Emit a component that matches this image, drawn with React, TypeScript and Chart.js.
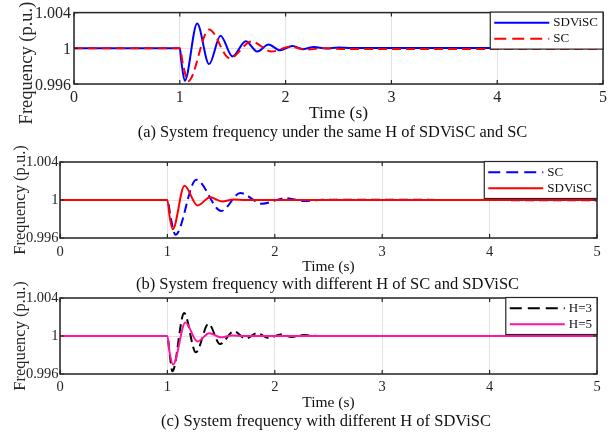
import { useEffect, useRef } from "react";
import { Chart, registerables } from "chart.js";

Chart.register(...registerables);

const SERIF = "'Liberation Serif', 'Times New Roman', Times, serif";

// Axis ticks shared by the three panels
const timeTicks = [0, 1, 2, 3, 4, 5];
const freqTicks = [0.996, 1, 1.004];
const freqTickLabels = ["0.996", "1", "1.004"];

const yAxisTitle = "Frequency (p.u.)";
const xAxisTitle = "Time (s)";

// (a) same inertia constant H for SDViSC and SC
const timeA_SDViSC = [0, 1, 1.015, 1.047, 1.164, 1.277, 1.385, 1.498, 1.624, 1.732, 1.839, 1.946, 2.066, 2.167, 2.268, 2.38, 2.5, 2.62, 5];
const freqA_SDViSC = [1, 1, 0.9985, 0.99636, 1.00277, 0.99823, 1.0014, 0.99909, 1.00079, 0.99963, 1.00043, 0.99978, 1.00025, 0.9999, 1.00015, 0.99998, 1.0001, 1.00003, 1.00004];
const timeA_SC = [0, 1, 1.03, 1.079, 1.277, 1.473, 1.678, 1.867, 2.04, 2.2, 2.36, 2.55, 5];
const freqA_SC = [1, 1, 0.9982, 0.99632, 1.00212, 0.99888, 1.00076, 0.99963, 1.00017, 0.99985, 1.00002, 0.99992, 0.99992];

// (b) different H for SC and SDViSC
const timeB_SC = [0, 1, 1.03, 1.075, 1.268, 1.502, 1.679, 1.882, 2.1, 2.27, 2.45, 5];
const freqB_SC = [1, 1, 0.9982, 0.99633, 1.00213, 0.99885, 1.00073, 0.99961, 1.0002, 0.9999, 1.00003, 0.99996];
const timeB_SDViSC = [0, 1, 1.02, 1.05, 1.159, 1.28, 1.399, 1.508, 1.617, 1.73, 5];
const freqB_SDViSC = [1, 1, 0.9983, 0.99692, 1.0015, 0.99943, 1.00028, 0.99985, 1.00005, 1.0, 1.0];

// (c) SDViSC with H = 3 and H = 5
const timeC_H3 = [0, 1, 1.02, 1.047, 1.156, 1.265, 1.383, 1.49, 1.62, 1.73, 1.835, 1.944, 2.055, 2.16, 2.27, 2.4, 5];
const freqC_H3 = [1, 1, 0.9982, 0.99629, 1.00241, 0.99828, 1.00129, 0.99915, 1.0005, 0.99972, 1.0003, 0.99979, 1.00017, 0.9999, 1.0001, 1.0, 1.0];
const timeC_H5 = [0, 1, 1.02, 1.053, 1.168, 1.278, 1.39, 1.495, 1.6, 1.72, 5];
const freqC_H5 = [1, 1, 0.9983, 0.997, 1.00143, 0.99942, 1.0003, 0.99986, 1.00005, 1.0, 1.0];

const captions = [
  "(a) System frequency under the same H of SDViSC and SC",
  "(b) System frequency with different H of SC and SDViSC",
  "(c) System frequency with different H of SDViSC",
];

type Series = { label: string; t: number[]; f: number[]; color: string; dash: number[]; order: number };

type Panel = {
  series: Series[];
  caption: string;
  canvasTop: number;
  canvasHeight: number;
  area: { l: number; r: number; t: number; b: number };
  tickSize: number;
  xTickY: number;
  yTickGap: number;
  yTickShift: number;
  titleSize: number;
  titleY: number;
  ylabelSize: number;
  ylabelX: number;
  ylabelY: number;
  captionSize: number;
  captionX: number;
  captionY: number;
};

const DASH = [9, 5];
const LEGEND_DASH = [12, 6];

const panels: Panel[] = [
  {
    series: [
      { label: "SDViSC", t: timeA_SDViSC, f: freqA_SDViSC, color: "#0000ff", dash: [], order: 1 },
      { label: "SC", t: timeA_SC, f: freqA_SC, color: "#ff0000", dash: DASH, order: 0 },
    ],
    caption: captions[0],
    canvasTop: 0,
    canvasHeight: 136,
    area: { l: 74, r: 603, t: 10, b: 84 },
    tickSize: 16,
    xTickY: 98,
    yTickGap: 3,
    yTickShift: 1.5,
    titleSize: 17.5,
    titleY: 113,
    ylabelSize: 18.5,
    ylabelX: 27,
    ylabelY: 63,
    captionSize: 16.4,
    captionX: 332.5,
    captionY: 132,
  },
  {
    series: [
      { label: "SC", t: timeB_SC, f: freqB_SC, color: "#0000ff", dash: DASH, order: 1 },
      { label: "SDViSC", t: timeB_SDViSC, f: freqB_SDViSC, color: "#ff0000", dash: [], order: 0 },
    ],
    caption: captions[1],
    canvasTop: 140,
    canvasHeight: 136,
    area: { l: 60, r: 597, t: 162, b: 238 },
    tickSize: 14.5,
    xTickY: 252,
    yTickGap: 1.5,
    yTickShift: 0,
    titleSize: 15.5,
    titleY: 267,
    ylabelSize: 16.5,
    ylabelX: 21,
    ylabelY: 200,
    captionSize: 16.5,
    captionX: 327.5,
    captionY: 284,
  },
  {
    series: [
      { label: "H=3", t: timeC_H3, f: freqC_H3, color: "#000000", dash: DASH, order: 1 },
      { label: "H=5", t: timeC_H5, f: freqC_H5, color: "#ff14a8", dash: [], order: 0 },
    ],
    caption: captions[2],
    canvasTop: 278,
    canvasHeight: 134,
    area: { l: 60, r: 597, t: 298, b: 374 },
    tickSize: 14.5,
    xTickY: 387,
    yTickGap: 1.5,
    yTickShift: 0,
    titleSize: 15.5,
    titleY: 403,
    ylabelSize: 16.5,
    ylabelX: 21,
    ylabelY: 336,
    captionSize: 16.5,
    captionX: 326,
    captionY: 421,
  },
];

const WIDTH = 616;
const HEIGHT = 435;
const FRAME = "#262626";

function PanelChart({ p }: { p: Panel }) {
  const ref = useRef<HTMLCanvasElement>(null);

  useEffect(() => {
    const canvas = ref.current;
    if (!canvas) return;
    const top = p.canvasTop;
    const areaBottom = p.area.b - top;
    const xAxisH = p.titleY - p.area.b + 0.6 * p.titleSize;
    const padBottom = p.canvasHeight - areaBottom - xAxisH;

    const decor = {
      id: "decor",
      afterDatasetsDraw(chart: any) {
        const { ctx, chartArea: a, scales } = chart;
        ctx.save();
        // axes box
        ctx.strokeStyle = FRAME;
        ctx.lineWidth = 1.5;
        ctx.strokeRect(a.left, a.top, a.right - a.left, a.bottom - a.top);
        // inward tick marks
        ctx.lineWidth = 1.2;
        ctx.beginPath();
        for (const v of timeTicks) {
          const x = scales.x.getPixelForValue(v);
          ctx.moveTo(x, a.top);
          ctx.lineTo(x, a.top + 4);
          ctx.moveTo(x, a.bottom);
          ctx.lineTo(x, a.bottom - 4);
        }
        for (const v of freqTicks) {
          const y = scales.y.getPixelForValue(v);
          ctx.moveTo(a.left, y);
          ctx.lineTo(a.left + 4, y);
          ctx.moveTo(a.right, y);
          ctx.lineTo(a.right - 4, y);
        }
        ctx.stroke();

        // legend box in the upper right corner
        ctx.font = `13px ${SERIF}`;
        const textW = Math.max(...p.series.map((s) => ctx.measureText(s.label).width));
        const lineLen = 55;
        const boxW = 4 + lineLen + 4 + textW + 5;
        const boxH = 37;
        const bx = a.right - boxW;
        const by = a.top - 0.5;
        ctx.fillStyle = "#ffffff";
        ctx.fillRect(bx, by, boxW, boxH);
        ctx.strokeStyle = FRAME;
        ctx.lineWidth = 1.2;
        ctx.strokeRect(bx, by, boxW, boxH);
        p.series.forEach((s, i) => {
          const y = by + 10.7 + i * 16;
          ctx.beginPath();
          ctx.strokeStyle = s.color;
          ctx.lineWidth = 2;
          ctx.setLineDash(s.dash.length ? LEGEND_DASH : []);
          ctx.moveTo(bx + 4, y);
          ctx.lineTo(bx + 4 + lineLen, y);
          ctx.stroke();
          ctx.setLineDash([]);
          ctx.fillStyle = "#111111";
          ctx.textAlign = "left";
          ctx.textBaseline = "middle";
          ctx.fillText(s.label, bx + 4 + lineLen + 4, y);
        });
        ctx.restore();
      },
      afterDraw(chart: any) {
        const { ctx } = chart;
        ctx.save();
        ctx.translate(p.ylabelX, p.ylabelY - top);
        ctx.rotate(-Math.PI / 2);
        ctx.font = `${p.ylabelSize}px ${SERIF}`;
        ctx.fillStyle = "#262626";
        ctx.textAlign = "center";
        ctx.textBaseline = "middle";
        ctx.fillText(yAxisTitle, 0, 0);
        ctx.restore();
      },
    };

    const chart = new Chart(canvas, {
      type: "line",
      data: {
        datasets: p.series.map((s) => ({
          label: s.label,
          data: s.t.map((t, i) => ({ x: t, y: s.f[i] })),
          borderColor: s.color,
          backgroundColor: s.color,
          borderWidth: 2,
          borderDash: s.dash,
          pointRadius: 0,
          cubicInterpolationMode: "monotone" as const,
          fill: false,
          order: s.order,
        })),
      },
      options: {
        responsive: false,
        maintainAspectRatio: false,
        devicePixelRatio: 1,
        animation: false,
        events: [],
        layout: {
          padding: {
            left: 0,
            right: WIDTH - p.area.r,
            top: p.area.t - top,
            bottom: padBottom,
          },
        },
        plugins: {
          legend: { display: false },
          tooltip: { enabled: false },
          title: { display: false },
        },
        scales: {
          x: {
            type: "linear",
            min: 0,
            max: 5,
            afterBuildTicks: (s: any) => {
              s.ticks = timeTicks.map((v) => ({ value: v }));
            },
            afterFit: (s: any) => {
              s.height = xAxisH;
            },
            grid: { color: "#e2e2e2", lineWidth: 1, drawTicks: false },
            border: { display: false },
            ticks: {
              padding: p.xTickY - p.area.b - 0.6 * p.tickSize,
              color: "#262626",
              font: { family: SERIF, size: p.tickSize },
              maxRotation: 0,
              callback: (v: any) => String(v),
            },
            title: {
              display: true,
              text: xAxisTitle,
              color: "#111111",
              font: { family: SERIF, size: p.titleSize },
              padding: { top: 0, bottom: 0 },
            },
          },
          y: {
            type: "linear",
            min: freqTicks[0],
            max: freqTicks[freqTicks.length - 1],
            afterBuildTicks: (s: any) => {
              s.ticks = freqTicks.map((v) => ({ value: v }));
            },
            afterFit: (s: any) => {
              s.width = p.area.l;
            },
            grid: { color: "#e2e2e2", lineWidth: 1, drawTicks: false },
            border: { display: false },
            ticks: {
              padding: p.yTickGap,
              labelOffset: p.yTickShift,
              color: "#262626",
              font: { family: SERIF, size: p.tickSize },
              callback: (v: any) => {
                const i = freqTicks.findIndex((f) => Math.abs(f - Number(v)) < 1e-9);
                return i >= 0 ? freqTickLabels[i] : "";
              },
            },
          },
        },
      },
      plugins: [decor],
    });

    return () => chart.destroy();
  }, [p]);

  return (
    <canvas
      ref={ref}
      width={WIDTH}
      height={p.canvasHeight}
      style={{ position: "absolute", left: 0, top: p.canvasTop, width: WIDTH, height: p.canvasHeight }}
    />
  );
}

export default function App() {
  return (
    <div
      style={{
        position: "fixed",
        left: 0,
        top: 0,
        width: WIDTH,
        height: HEIGHT,
        background: "#ffffff",
        overflow: "hidden",
      }}
    >
      {panels.map((p, i) => (
        <PanelChart key={i} p={p} />
      ))}
      {panels.map((p, i) => (
        <div
          key={"c" + i}
          style={{
            position: "absolute",
            left: p.captionX - WIDTH / 2,
            width: WIDTH,
            top: p.captionY - p.captionSize * 0.6,
            lineHeight: `${p.captionSize * 1.2}px`,
            fontSize: p.captionSize,
            fontFamily: SERIF,
            color: "#111111",
            textAlign: "center",
            whiteSpace: "nowrap",
          }}
        >
          {p.caption}
        </div>
      ))}
    </div>
  );
}
